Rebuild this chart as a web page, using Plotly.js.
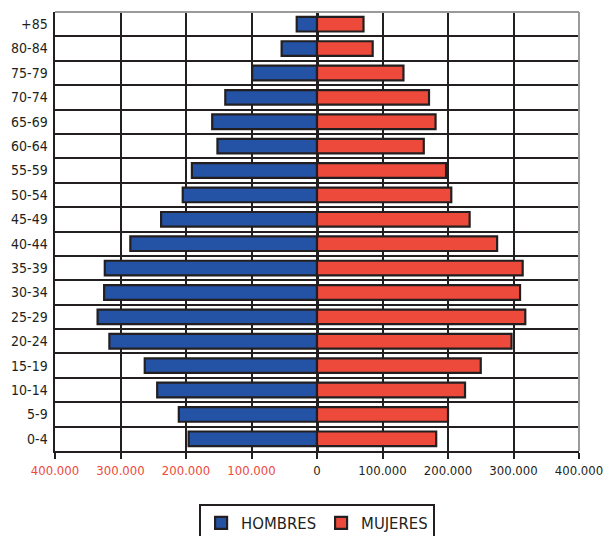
<!DOCTYPE html>
<html>
<head>
<meta charset="utf-8">
<script src="https://cdn.plot.ly/plotly-3.0.1.min.js"></script>
<style>html,body{margin:0;padding:0;background:#fff;}#chart{width:603px;height:536px;}</style>
</head>
<body>
<div id="chart"></div>
<script>
const ageGroups = ["0-4","5-9","10-14","15-19","20-24","25-29","30-34","35-39","40-44","45-49","50-54","55-59","60-64","65-69","70-74","75-79","80-84","+85"];
const hombres = [196000,211000,244000,263000,317000,335000,325000,324000,285000,238000,205000,191000,152000,160000,140000,99000,54000,31000];
const mujeres = [182000,200000,226000,250000,297000,318000,310000,314000,275000,233000,205000,197000,163000,181000,171000,132000,85000,71000];
const tickVals = [-400000,-300000,-200000,-100000,0,100000,200000,300000,400000];
const tickLabels = ["400.000","300.000","200.000","100.000","0","100.000","200.000","300.000","400.000"];

const RED = "#ee4a3b", BLUE = "#2452a5", DARK = "#231f20", GRAY = "#9a9a9a";
const FONT = "'DejaVu Sans Condensed', 'Liberation Sans Narrow', 'Arial Narrow', sans-serif";

const tickText = tickVals.map((v, i) => v < 0 ? '<span style="color:' + RED + '">' + tickLabels[i] + '</span>' : tickLabels[i]);

const traces = [
  {
    type: "bar", orientation: "h", name: "HOMBRES",
    y: ageGroups, x: hombres.map(v => -v),
    marker: {color: BLUE, line: {color: DARK, width: 2.2}},
    hoverinfo: "skip"
  },
  {
    type: "bar", orientation: "h", name: "MUJERES",
    y: ageGroups, x: mujeres,
    marker: {color: RED, line: {color: DARK, width: 2.2}},
    hoverinfo: "skip"
  }
];

const layout = {
  width: 603, height: 536,
  margin: {l: 55, r: 24, t: 12, b: 85, autoexpand: false},
  paper_bgcolor: "#fff", plot_bgcolor: "#fff",
  barmode: "relative", bargap: 0.4,
  font: {family: FONT, color: DARK, size: 14},
  showlegend: true,
  legend: {
    orientation: "h", x: 0.275, xanchor: "left", y: -0.12, yanchor: "top",
    bordercolor: DARK, borderwidth: 2, font: {size: 16.5, family: FONT, color: DARK},
    traceorder: "normal", itemwidth: 30
  },
  xaxis: {
    range: [-400000, 400000], tickvals: tickVals, ticktext: tickText,
    showgrid: true, gridcolor: DARK, gridwidth: 2,
    zeroline: true, zerolinecolor: DARK, zerolinewidth: 3,
    showline: true, linecolor: DARK, linewidth: 2,
    ticks: "outside", ticklen: 6, tickwidth: 2, tickcolor: DARK,
    ticklabeloverflow: "allow", automargin: false,
    tickfont: {size: 13, family: FONT, color: DARK}, fixedrange: true
  },
  yaxis: {
    type: "category", tickson: "boundaries", ticks: "",
    showgrid: true, gridcolor: DARK, gridwidth: 2,
    showline: true, linecolor: DARK, linewidth: 2.5, automargin: false,
    tickfont: {size: 14, family: FONT, color: DARK}, ticklabelstandoff: 2, fixedrange: true
  },
  shapes: [
    {type: "line", xref: "paper", yref: "paper", x0: 0, x1: 1, y0: 1, y1: 1, line: {color: GRAY, width: 2}, layer: "above"},
    {type: "line", xref: "paper", yref: "paper", x0: 1, x1: 1, y0: 0, y1: 1, line: {color: GRAY, width: 2}, layer: "above"}
  ]
};

Plotly.newPlot("chart", traces, layout, {staticPlot: true, displayModeBar: false});
</script>
</body>
</html>
